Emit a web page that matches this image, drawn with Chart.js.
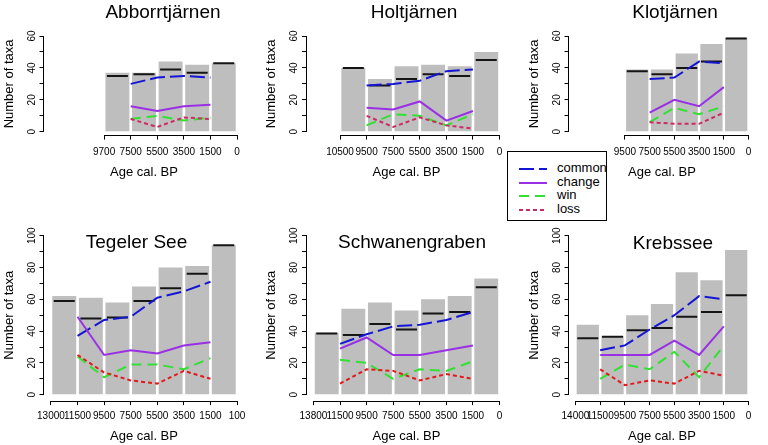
<!DOCTYPE html>
<html><head><meta charset="utf-8">
<script src="https://cdn.jsdelivr.net/npm/chart.js@4.4.1/dist/chart.umd.min.js"></script>
<style>
html,body{margin:0;padding:0;background:#fff;width:768px;height:445px;overflow:hidden;position:relative;font-family:'Liberation Sans',Arial,sans-serif;}
canvas.panel{position:absolute;left:0;top:0;}
#legend{position:absolute;left:507px;top:151px;width:100px;height:70px;border:1px solid #000;box-sizing:border-box;background:#fff;z-index:10;}
.row{position:absolute;left:0;height:14px;width:100%;}
.row svg{position:absolute;left:11px;top:0;}
.row span{position:absolute;left:49px;top:-1px;font-size:13px;line-height:14px;color:#000;}
</style></head>
<body>
<div id="legend"></div>
<script>
// ---------- data ----------
const seriesNames = ['common', 'change', 'win', 'loss'];
const topYTicks = [0, 10, 20, 30, 40, 50, 60];
const bottomYTicks = [0, 10, 20, 30, 40, 50, 60, 70, 80, 90, 100];

const abbAges = ['9700', '7500', '5500', '3500', '1500', '0'];
const abbTotal = [37, 37, 44, 42, 43];
const abbMark = [35, 36, 39, 37, 43];
const abbCommon = [30, 34, 35, 34];
const abbChange = [16, 13, 16, 17];
const abbWin = [8, 10, 7, 9];
const abbLoss = [8, 3, 9, 8];

const holAges = ['10500', '9500', '7500', '5500', '3500', '1500', '0'];
const holTotal = [40, 33, 41, 42, 41, 50];
const holMark = [40, 29, 33, 36, 35, 45];
const holCommon = [29, 30, 32, 38, 39];
const holChange = [15, 14, 19, 7, 13];
const holWin = [4, 11, 10, 4, 11];
const holLoss = [10, 3, 9, 4, 2];

const kloAges = ['9500', '7500', '5500', '3500', '1500', '0'];
const kloTotal = [39, 39, 49, 55, 59];
const kloMark = [38, 36, 40, 44, 58.5];
const kloCommon = [33, 34, 44, 43];
const kloChange = [12, 20, 16, 28];
const kloWin = [6, 15, 11, 16];
const kloLoss = [6, 5, 5, 12];

const tegAges = ['13000', '11500', '9500', '7500', '5500', '3500', '1500', '100'];
const tegTotal = [62, 61, 58, 68, 80, 81, 94];
const tegMark = [59, 48, 48.5, 59, 67, 76, 94];
const tegCommon = [37, 47, 49, 61, 65, 71];
const tegChange = [49, 25, 28, 26, 31, 33];
const tegWin = [24, 11, 19, 19, 16, 23];
const tegLoss = [25, 14, 9, 7, 15, 10];

const schAges = ['13800', '11500', '9500', '7500', '5500', '3500', '1500', '0'];
const schTotal = [39, 54, 58, 53, 60, 62, 73];
const schMark = [38.5, 37.5, 44.5, 41, 51, 52, 67.5];
const schCommon = [32, 38, 43, 44, 47, 52];
const schChange = [29, 36, 25, 25, 28, 31];
const schWin = [22, 20, 10, 16, 15, 21];
const schLoss = [7, 16, 15, 9, 13, 10];

const kreAges = ['14000', '11500', '9500', '7500', '5500', '3500', '1500', '0'];
const kreTotal = [44, 37, 50, 57, 77, 72, 91];
const kreMark = [35.5, 36.5, 40.5, 42, 49, 52, 62.5];
const kreCommon = [28, 31, 41, 50, 62, 60];
const kreChange = [25, 25, 25, 34, 25, 43];
const kreWin = [10, 19, 16, 27, 11, 31];
const kreLoss = [16, 6, 9, 7, 15, 12];

// ---------- styling / layout ----------
Chart.defaults.font.family = "'Liberation Sans', Arial, sans-serif";
Chart.defaults.color = '#000';
const FONT = "'Liberation Sans', Arial, sans-serif";
const COLORS = { common: '#1515D5', change: '#9A30E6', win: '#33E033', lossTop: '#CD2A62', lossBottom: '#E3191C' };
const DASH = { common: [15, 5], change: [], win: [10, 6], loss: [4, 3] };
const WY = 42;
const ROWS = {
  top: { T: 32.2, B: 135.6, ymin: -2.4, ymax: 62.4, HX: 45, xPad: 6.4, xTitlePad: 0.8, yPad: 1.9, yTicks: topYTicks },
  bottom: { T: 229.3, B: 401.1, ymin: -4, ymax: 104, HX: 43.9, xPad: 5, xTitlePad: 0.5, yPad: -0.8, yTicks: bottomYTicks }
};
const COLS = [{ L: 43.5, R: 244.5 }, { L: 306, R: 507 }, { L: 568.5, R: 768 }];

const axisLinePlugin = {
  id: 'axisLines',
  afterDraw(chart) {
    const { ctx, chartArea: a, scales: { x, y } } = chart;
    const al = p => Math.round(p - 0.5) + 0.5;
    ctx.save();
    ctx.strokeStyle = '#000';
    ctx.lineWidth = 1;
    ctx.beginPath();
    const yb = al(a.bottom);
    ctx.moveTo(al(x.getPixelForValue(x.ticks[0].value)) - 0.5, yb);
    ctx.lineTo(al(x.getPixelForValue(x.ticks[x.ticks.length - 1].value)) + 0.5, yb);
    const xl = al(a.left);
    ctx.moveTo(xl, al(y.getPixelForValue(y.ticks[0].value)) + 0.5);
    ctx.lineTo(xl, al(y.getPixelForValue(y.ticks[y.ticks.length - 1].value)) - 0.5);
    ctx.stroke();
    ctx.restore();
  }
};
const titlePlugin = {
  id: 'panelTitle',
  afterDraw(chart, args, opts) {
    const ctx = chart.ctx;
    ctx.save();
    ctx.font = '19px ' + FONT;
    ctx.fillStyle = '#000';
    ctx.textAlign = 'center';
    ctx.textBaseline = 'alphabetic';
    ctx.fillText(opts.text, opts.x, opts.y);
    ctx.restore();
  }
};

function makePanel(p) {
  const g = ROWS[p.row];
  const c = COLS[p.col];
  const canvas = document.createElement('canvas');
  canvas.width = 768; canvas.height = 445; canvas.className = 'panel';
  document.body.appendChild(canvas);
  const n = p.total.length, start = 7 - n;
  const ticksX = p.ages.map((_, k) => start + k);
  const bars = p.total.map((v, i) => ({ x: start + i + 0.5, y: v }));
  const marks = p.mark.map((v, i) => ({ x: start + i + 0.5, y: v }));
  const pts = arr => arr.map((v, i) => ({ x: start + i + 1, y: v }));
  const lossColor = p.row === 'top' ? COLORS.lossTop : COLORS.lossBottom;
  const lineDs = (name, arr, color, order) => ({
    type: 'line', label: name, data: pts(arr), borderColor: color, backgroundColor: color,
    borderWidth: 2, borderDash: DASH[name], pointRadius: 0, fill: false, tension: 0, order
  });
  new Chart(canvas, {
    type: 'bar',
    data: {
      datasets: [
        { type: 'bar', data: bars, backgroundColor: '#BEBEBE', borderWidth: 0, categoryPercentage: 1, barPercentage: 0.9, order: 10 },
        { type: 'line', data: marks, showLine: false, pointStyle: 'line', pointRadius: 10.5, pointBorderWidth: 2,
          pointBorderColor: '#151515', pointBackgroundColor: '#151515', order: 5 },
        lineDs('common', p.common, COLORS.common, 4),
        lineDs('change', p.change, COLORS.change, 3),
        lineDs('win', p.win, COLORS.win, 2),
        lineDs('loss', p.loss, lossColor, 1)
      ]
    },
    options: {
      responsive: false, animation: false, events: [], devicePixelRatio: 1,
      layout: { padding: { left: c.L - WY, top: g.T, right: 768 - c.R, bottom: 445 - g.B - g.HX } },
      plugins: { legend: { display: false }, tooltip: { enabled: false },
        panelTitle: { text: p.title, x: p.tx, y: p.ty } },
      scales: {
        x: {
          type: 'linear', min: -0.28, max: 7.28, offset: false,
          afterBuildTicks: s => { s.ticks = ticksX.map(v => ({ value: v })); },
          afterFit: s => { s.height = g.HX; s.paddingLeft = 0; s.paddingRight = 0; },
          ticks: { autoSkip: false, maxRotation: 0, minRotation: 0, padding: g.xPad, font: { size: 10 }, color: '#000',
            callback: (v, i) => p.ages[i] },
          grid: { display: true, drawOnChartArea: false, drawTicks: true, tickLength: 4, color: '#000', lineWidth: 1, offset: false },
          border: { display: false },
          title: { display: true, text: 'Age cal. BP', font: { size: 13 }, color: '#000', padding: { top: 0, bottom: g.xTitlePad } }
        },
        y: {
          type: 'linear', min: g.ymin, max: g.ymax,
          afterBuildTicks: s => { s.ticks = g.yTicks.map(v => ({ value: v })); },
          afterFit: s => { s.width = WY; s.paddingTop = 0; s.paddingBottom = 0; },
          ticks: { autoSkip: false, minRotation: 90, maxRotation: 90, crossAlign: 'center', padding: g.yPad,
            font: { size: 10 }, color: '#000', callback: v => (v % 20 === 0 ? String(v) : '') },
          grid: { display: true, drawOnChartArea: false, drawTicks: true, tickLength: 4, color: '#000', lineWidth: 1 },
          border: { display: false },
          title: { display: true, text: 'Number of taxa', font: { size: 13 }, color: '#000', padding: { top: 0, bottom: 0 } }
        }
      }
    },
    plugins: [axisLinePlugin, titlePlugin]
  });
}

makePanel({ title: 'Abborrtjärnen', row: 'top', col: 0, tx: 163, ty: 17.5, ages: abbAges, total: abbTotal, mark: abbMark, common: abbCommon, change: abbChange, win: abbWin, loss: abbLoss });
makePanel({ title: 'Holtjärnen', row: 'top', col: 1, tx: 414, ty: 17.5, ages: holAges, total: holTotal, mark: holMark, common: holCommon, change: holChange, win: holWin, loss: holLoss });
makePanel({ title: 'Klotjärnen', row: 'top', col: 2, tx: 675, ty: 17.5, ages: kloAges, total: kloTotal, mark: kloMark, common: kloCommon, change: kloChange, win: kloWin, loss: kloLoss });
makePanel({ title: 'Tegeler See', row: 'bottom', col: 0, tx: 136.5, ty: 248.3, ages: tegAges, total: tegTotal, mark: tegMark, common: tegCommon, change: tegChange, win: tegWin, loss: tegLoss });
makePanel({ title: 'Schwanengraben', row: 'bottom', col: 1, tx: 412, ty: 248.3, ages: schAges, total: schTotal, mark: schMark, common: schCommon, change: schChange, win: schWin, loss: schLoss });
makePanel({ title: 'Krebssee', row: 'bottom', col: 2, tx: 673, ty: 249, ages: kreAges, total: kreTotal, mark: kreMark, common: kreCommon, change: kreChange, win: kreWin, loss: kreLoss });

// ---------- legend ----------
const legend = document.getElementById('legend');
const legendColors = [COLORS.common, COLORS.change, COLORS.win, COLORS.lossTop];
const rowTops = [10, 23.5, 37, 50.5];
seriesNames.forEach((name, i) => {
  const row = document.createElement('div');
  row.className = 'row';
  row.style.top = rowTops[i] + 'px';
  const dash = DASH[name].length ? DASH[name].join(' ') : 'none';
  row.innerHTML = '<svg width="28" height="14"><line x1="0" y1="7" x2="28" y2="7" stroke="' + legendColors[i] +
    '" stroke-width="2" stroke-dasharray="' + dash + '"/></svg><span>' + name + '</span>';
  legend.appendChild(row);
});
</script>
</body></html>
